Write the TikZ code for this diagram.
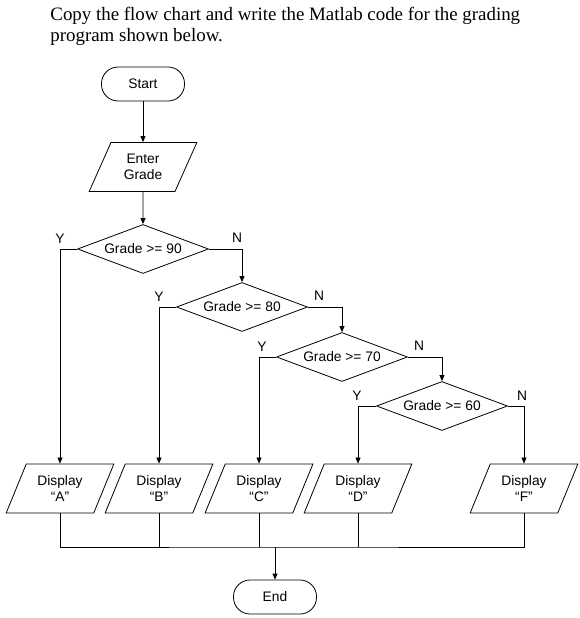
\documentclass[tikz,border=0pt]{standalone}
\usepackage{fontspec}
\setmainfont{Liberation Serif}
\setsansfont{Liberation Sans}
\usetikzlibrary{shapes.geometric,arrows.meta}

\begin{document}
\begin{tikzpicture}[x=1pt,y=-1pt,line width=0.8pt,>={Triangle[length=6pt,width=5pt]},
        term node/.style={rectangle,draw,rounded corners=16.5pt,minimum width=83pt,minimum height=34pt,font=\sffamily\fontsize{13.8}{16}\selectfont},
        io node/.style={trapezium,draw,trapezium left angle=64,trapezium right angle=116,trapezium stretches=true,
          minimum width=108pt,minimum height=49pt,inner sep=2pt,align=center,font=\sffamily\fontsize{13.8}{16}\selectfont},
        test node/.style={diamond,draw,aspect=2.67,minimum width=131pt,minimum height=49pt,inner sep=0pt,font=\sffamily\fontsize{13.8}{16}\selectfont},
        yn/.style={inner sep=0pt,font=\sffamily\fontsize{13.8}{16}\selectfont}]
        \useasboundingbox (0,0) rectangle (579,618);

        % title
        \node[anchor=north west, align=left, inner sep=0pt, font=\fontsize{18.9}{20.8}\selectfont] (title) at (50,7)
          {Copy the flow chart and write the Matlab code for the grading\\program shown below.};

        % nodes
        \node[term node] (start) at (143, 84) {Start};
        \node[io node] (enter) at (143, 167) {Enter\\Grade};
        \node[test node] (g90) at (143, 249) {Grade >= 90};
        \node[test node] (g80) at (242, 307) {Grade >= 80};
        \node[test node] (g70) at (342, 357) {Grade >= 70};
        \node[test node] (g60) at (442, 406) {Grade >= 60};

        \node[io node] (dA) at (60, 488.5) {Display\\“A”};
        \node[io node] (dB) at (159, 488.5) {Display\\“B”};
        \node[io node] (dC) at (259, 488.5) {Display\\“C”};
        \node[io node] (dD) at (358, 488.5) {Display\\“D”};
        \node[io node] (dF) at (524, 488.5) {Display\\“F”};

        \node[term node] (stop) at (275, 597) {End};
        \coordinate (join) at (275, 547);

        % Y / N labels
        \node[yn] (y90) at (60, 239) {Y};
        \node[yn] (n90) at (237, 238) {N};
        \node[yn] (y80) at (159, 297) {Y};
        \node[yn] (n80) at (319, 296) {N};
        \node[yn] (y70) at (262, 347) {Y};
        \node[yn] (n70) at (419, 346) {N};
        \node[yn] (y60) at (357, 396) {Y};
        \node[yn] (n60) at (522, 396) {N};

        % arrows
        \draw [->] (start) -- (enter);
        \draw [->] (enter) -- (g90);
        \draw [->] (g90.west) -| (dA.north);
        \draw [->] (g90.east) -| (g80.north);
        \draw [->] (g80.west) -| (dB.north);
        \draw [->] (g80.east) -| (g70.north);
        \draw [->] (g70.west) -| (dC.north);
        \draw [->] (g70.east) -| (g60.north);
        \draw [->] (g60.west) -| (dD.north);
        \draw [->] (g60.east) -| (dF.north);

        \draw (dA.south) |- (join) -| (dF.south);
        \draw (dB.south) -- (dB.south |- join);
        \draw (dC.south) -- (dC.south |- join);
        \draw (dD.south) -- (dD.south |- join);
        \draw [->] (join) -- (stop);

      \end{tikzpicture}
\end{document}
